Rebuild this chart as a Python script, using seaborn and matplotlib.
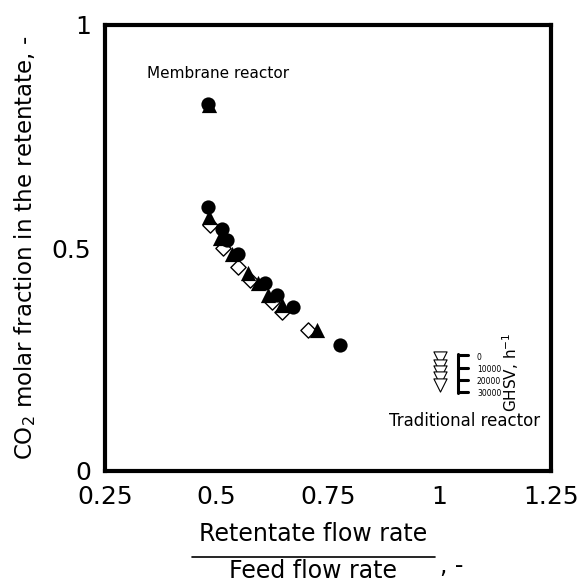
import matplotlib
matplotlib.use("Agg")
import matplotlib.pyplot as plt
import seaborn as sns
import pandas as pd
from matplotlib.lines import Line2D

sns.set_theme(style="white")
plt.rcParams['font.family'] = ['DejaVu Sans']

# Membrane reactor data (three series)
circ_x = [0.481, 0.481, 0.512, 0.524, 0.548, 0.609, 0.636, 0.672, 0.777]
circ_y = [0.823, 0.592, 0.543, 0.518, 0.487, 0.422, 0.395, 0.368, 0.283]
tri_x = [0.483, 0.483, 0.508, 0.535, 0.571, 0.593, 0.615, 0.647, 0.725]
tri_y = [0.821, 0.570, 0.522, 0.487, 0.444, 0.422, 0.395, 0.372, 0.316]
dia_x = [0.485, 0.515, 0.548, 0.575, 0.624, 0.647, 0.705]
dia_y = [0.552, 0.500, 0.457, 0.428, 0.379, 0.357, 0.316]
# Traditional reactor (GHSV 0 ... 30000 h-1)
trad_x = [1.0, 1.0, 1.0, 1.0, 1.0]
trad_y = [0.253, 0.235, 0.222, 0.209, 0.193]

ghsv_labels = ["0", "10000", "20000", "30000"]
x_ticks = [0.25, 0.5, 0.75, 1.0, 1.25]
x_ticklabels = ["0.25", "0.5", "0.75", "1", "1.25"]
y_ticks = [0, 0.5, 1.0]
y_ticklabels = ["0", "0.5", "1"]

fig = plt.figure(figsize=(5.81, 5.83), dpi=100)
ax = fig.add_axes([105 / 581, 1 - 471 / 583, 446 / 581, 446 / 583])

sns.scatterplot(x=dia_x, y=dia_y, marker="D", s=60, facecolor="white",
                edgecolor="black", linewidth=1.0, ax=ax, zorder=2)
sns.scatterplot(x=circ_x, y=circ_y, marker="o", s=105, color="black",
                edgecolor="black", linewidth=0, ax=ax, zorder=3)
sns.scatterplot(x=tri_x, y=tri_y, marker="^", s=120, color="black",
                edgecolor="black", linewidth=0, ax=ax, zorder=4)
sns.scatterplot(x=trad_x, y=trad_y, marker="v", s=90, facecolor="white",
                edgecolor="black", linewidth=0.8, ax=ax, zorder=3)

ax.set_xlim(0.25, 1.25)
ax.set_ylim(0, 1)
ax.set_xticks(x_ticks)
ax.set_xticklabels(x_ticklabels)
ax.set_yticks(y_ticks)
ax.set_yticklabels(y_ticklabels)
ax.tick_params(axis="both", length=0, pad=10, labelsize=18, labelcolor="black")
for sp in ax.spines.values():
    sp.set_linewidth(3)
    sp.set_color("black")
ax.grid(False)

ax.set_ylabel("CO$_2$ molar fraction in the retentate, -", fontsize=16.5,
              color="black", labelpad=10)

ax.text(0.503, 0.892, "Membrane reactor", ha="center", va="center",
        fontsize=11, color="black")
ax.text(1.057, 0.112, "Traditional reactor", ha="center", va="center",
        fontsize=12, color="black")

# GHSV bracket legend
bx = 458 / 581
lines_y = [355, 368, 380, 392]
fig.add_artist(Line2D([bx, bx], [1 - 354 / 583, 1 - 393 / 583],
                      color="black", lw=2.2, transform=fig.transFigure))
for yy, lab in zip(lines_y, ghsv_labels):
    fig.add_artist(Line2D([bx, 468 / 581], [1 - yy / 583, 1 - yy / 583],
                          color="black", lw=2.2, transform=fig.transFigure))
    fig.text(477 / 581, 1 - (yy + 2) / 583, lab, fontsize=5.5,
             ha="left", va="center", color="black")
fig.text(511 / 581, 1 - 372 / 583, "GHSV, h$^{-1}$", rotation=90,
         fontsize=11, ha="center", va="center", color="black")

# fraction-style x label
fig.text(313 / 581, 1 - 534 / 583, "Retentate flow rate", fontsize=17,
         ha="center", va="center", color="black")
fig.add_artist(Line2D([192 / 581, 435 / 581], [1 - 557 / 583, 1 - 557 / 583],
                      color="black", lw=1.2, transform=fig.transFigure))
fig.text(313 / 581, 1 - 571 / 583, "Feed flow rate", fontsize=17,
         ha="center", va="center", color="black")
fig.text(452 / 581, 1 - 566 / 583, ", -", fontsize=17,
         ha="center", va="center", color="black")

fig.savefig("out.png", dpi=100, facecolor="white")
